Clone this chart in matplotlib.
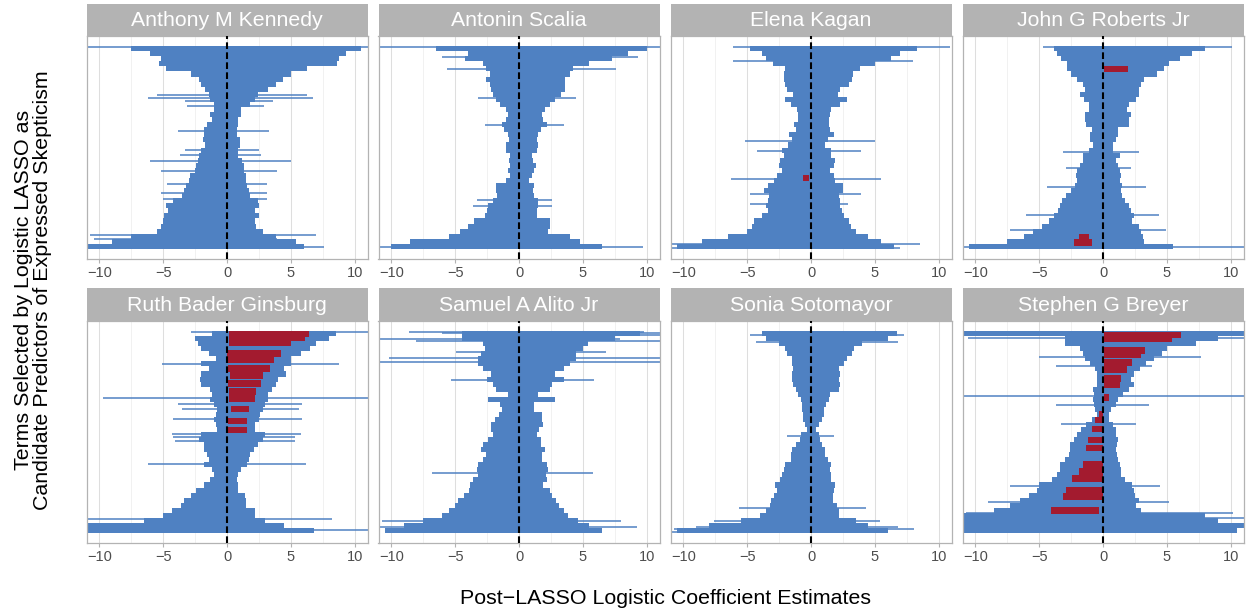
import matplotlib
matplotlib.use("Agg")
import matplotlib.pyplot as plt

plt.rcParams['font.family'] = ['Liberation Sans', 'DejaVu Sans']

# Each panel: ~200 ranked terms. core rows = bands of 5 terms (lo / hi of the dense body),
# long = (rank, lo, hi) of single wide intervals, red = (rank, lo, hi) of highlighted terms.
justices = ["Anthony M Kennedy", "Antonin Scalia", "Elena Kagan", "John G Roberts Jr",
            "Ruth Bader Ginsburg", "Samuel A Alito Jr", "Sonia Sotomayor", "Stephen G Breyer"]

kennedy_lo = [-7.5, -6.0, -5.2, -5.3, -4.8, -2.8, -2.2, -2.0, -1.7, -1.4, -1.3, -1.0, -1.0, -1.3, -1.2, -1.6, -1.8, -1.8, -1.9, -1.7,
              -2.0, -2.2, -2.3, -2.4, -2.5, -2.9, -3.0, -3.2, -3.4, -3.5, -4.2, -4.8, -4.6, -4.9, -5.0, -5.2, -5.5, -7.5, -9.0, -11]
kennedy_hi = [10.5, 9.3, 8.8, 8.6, 6.3, 5.0, 4.4, 3.8, 3.2, 2.4, 2.2, 1.8, 1.1, 1.1, 0.9, 0.9, 0.8, 0.8, 1.0, 1.0,
              0.9, 0.9, 1.2, 1.3, 1.3, 1.5, 1.5, 1.6, 1.7, 1.8, 2.4, 2.5, 2.2, 2.5, 2.2, 2.3, 2.8, 3.8, 5.4, 6.0]
kennedy_long = [(1, -11, 11), (48, -5.5, 6.3), (51, -6.2, 6.7), (54, -3.3, 3.6), (59, -3.1, 2.9), (84, -3.8, 3.3),
                (102, -3.3, 2.5), (107, -3.7, 2.7), (113, -6.0, 5.0), (123, -5.2, 3.9), (136, -4.7, 3.1),
                (145, -5.2, 3.1), (151, -5.0, 3.1), (186, -10.7, 7.0), (190, -10.4, 3.9), (198, -11, 7.6)]
kennedy_red = []

scalia_lo = [-6.5, -4.0, -4.2, -2.8, -2.6, -2.3, -2.6, -2.3, -2.2, -2.0, -1.8, -1.5, -1.0, -0.9, -1.0, -1.3, -1.2, -0.9, -0.8, -1.0,
             -1.0, -0.7, -0.8, -0.7, -0.9, -0.7, -1.0, -1.8, -1.8, -1.7, -2.0, -2.4, -2.5, -2.7, -3.5, -4.0, -4.6, -5.5, -8.5, -10.0]
scalia_hi = [10.0, 8.5, 7.3, 5.5, 4.2, 4.0, 3.6, 3.6, 3.6, 3.3, 2.8, 2.4, 2.0, 1.8, 1.9, 2.2, 1.7, 1.5, 1.4, 1.5,
             1.4, 1.0, 1.1, 1.3, 1.2, 1.0, 0.8, 1.2, 1.1, 1.2, 1.5, 1.5, 1.4, 1.4, 2.4, 2.4, 2.3, 4.0, 4.8, 6.5]
scalia_long = [(1, -11, 11), (11, -6.0, 9.3), (23, -5.6, 7.6), (51, -3.2, 4.5), (78, -2.7, 3.5),
               (152, -3.3, 2.6), (158, -3.6, 2.6), (198, -10.9, 9.7)]
scalia_red = []

kagan_lo = [-4.8, -3.8, -3.5, -3.0, -2.0, -2.1, -2.1, -2.0, -1.9, -1.4, -2.0, -1.6, -1.1, -1.0, -1.0, -1.3, -1.2, -1.7, -1.5, -1.8,
            -2.3, -2.1, -2.4, -2.5, -2.3, -2.7, -2.9, -3.4, -3.7, -3.3, -3.4, -3.5, -3.4, -3.8, -4.5, -4.6, -5.0, -6.5, -8.5, -10.5]
kagan_hi = [8.3, 7.0, 6.3, 5.0, 3.8, 3.3, 3.2, 3.0, 2.3, 2.1, 2.8, 2.3, 1.6, 1.5, 1.4, 1.4, 1.5, 1.8, 1.3, 1.1,
            1.6, 1.6, 1.9, 1.8, 1.5, 1.8, 1.9, 2.5, 2.5, 2.2, 2.3, 2.3, 2.4, 2.6, 3.0, 3.1, 3.5, 4.5, 5.5, 6.5]
kagan_long = [(1, -6.1, 10.9), (15, -6.1, 8.0), (94, -5.2, 5.0), (103, -4.2, 3.9), (131, -6.3, 5.5),
              (146, -4.8, 3.9), (156, -4.8, 2.9), (195, -11, 8.5), (199, -11, 7.0)]
kagan_red = [(130, -0.65, -0.13)]

roberts_lo = [-3.8, -3.6, -3.3, -2.8, -2.8, -2.5, -2.0, -1.6, -1.4, -1.8, -1.5, -1.1, -1.1, -1.4, -1.4, -1.3, -0.9, -1.0, -1.0, -0.8,
              -1.1, -1.6, -1.6, -1.8, -2.0, -2.1, -2.0, -2.2, -2.5, -2.9, -3.2, -3.4, -3.5, -3.8, -4.2, -4.8, -5.5, -6.2, -7.5, -10.5]
roberts_hi = [8.0, 7.0, 6.0, 5.2, 4.8, 4.2, 3.2, 3.0, 2.8, 2.8, 2.6, 2.0, 1.9, 2.2, 2.0, 2.0, 1.2, 1.2, 1.0, 0.8,
              0.8, 1.3, 1.0, 1.2, 1.3, 1.4, 1.3, 1.5, 1.4, 1.5, 1.7, 2.0, 2.2, 2.4, 2.3, 2.8, 3.0, 3.1, 3.2, 5.5]
roberts_long = [(1, -4.7, 10.1), (104, -3.1, 2.8), (120, -2.9, 2.2), (139, -4.4, 3.4), (167, -6.0, 4.4),
                (181, -7.3, 4.9), (198, -11, 11)]
roberts_red = [(22.5, 0.1, 1.95), (188.5, -1.9, -1.1), (193.5, -2.3, -0.9)]

ginsburg_lo = [-1.2, -2.5, -2.3, -2.0, -1.4, -0.9, -2.0, -1.4, -2.0, -2.1, -2.0, -1.3, -1.2, -1.3, -1.0, -0.8, -0.9, -1.0, -0.9, -0.8,
               -2.0, -2.2, -1.8, -1.8, -1.6, -1.4, -1.8, -1.2, -1.0, -1.3, -1.8, -2.4, -2.8, -3.4, -3.6, -4.3, -5.0, -6.5, -11, -11]
ginsburg_hi = [8.5, 8.0, 7.0, 6.5, 5.8, 5.0, 5.0, 4.5, 4.6, 4.0, 3.8, 3.5, 3.2, 3.2, 3.0, 2.8, 2.6, 2.5, 2.2, 2.2,
               3.0, 2.8, 2.4, 2.1, 1.8, 1.7, 1.6, 1.1, 0.9, 0.8, 0.9, 0.9, 1.4, 1.5, 1.5, 2.2, 2.2, 3.0, 4.5, 6.8]
ginsburg_long = [(1, -2.8, 11), (33, -5.1, 8.8), (66, -9.7, 11), (72, -3.8, 5.9), (77, -3.5, 5.6), (87, -4.2, 5.9),
                 (102, -4.3, 5.8), (105, -4.2, 5.3), (109, -4.1, 5.3), (132, -6.2, 6.2), (186, -11, 8.2), (197, -11, 11)]
ginsburg_red = [(3, 0.13, 6.4), (7, 0.13, 6.1), (12, 0.13, 5.0), (22, 0.03, 4.2), (28, 0.05, 3.7), (37, 0.05, 3.4),
                (44, 0.26, 2.8), (52, 0.1, 2.7), (60, 0.13, 2.3), (67, 0.13, 2.2), (77, 0.34, 1.7), (89, 0.08, 1.6),
                (98, 0.08, 1.55)]

alito_lo = [-4.5, -4.5, -2.8, -2.7, -3.0, -3.2, -3.2, -2.8, -2.2, -2.5, -2.0, -1.8, -0.9, -2.4, -1.5, -1.3, -1.6, -1.9, -2.2, -2.2,
            -2.0, -2.4, -2.8, -3.0, -2.6, -2.8, -3.2, -3.3, -3.2, -3.6, -3.8, -3.9, -4.3, -4.8, -5.0, -5.5, -6.0, -7.5, -9.0, -10.5]
alito_hi = [9.5, 7.5, 5.4, 5.0, 4.5, 4.5, 4.0, 3.5, 2.8, 3.5, 2.6, 2.4, 1.5, 2.8, 1.2, 1.2, 1.8, 1.8, 1.9, 1.6,
            1.4, 1.7, 1.7, 2.0, 1.8, 1.8, 2.2, 2.3, 2.1, 2.2, 1.9, 2.4, 2.6, 2.9, 3.1, 3.5, 3.8, 4.6, 5.5, 6.5]
alito_long = [(1, -8.6, 9.8), (2, -6.0, 11), (4, -4.5, 11), (8, -10.9, 7.9), (10, -8.1, 11), (21, -4.9, 6.8),
              (27, -10.2, 11), (31, -10.9, 11), (48, -5.3, 5.9), (141, -6.8, 5.8), (188, -10.7, 8.0), (194, -10.9, 9.2)]
alito_red = []

sotomayor_lo = [-3.8, -3.5, -2.5, -2.0, -1.9, -1.5, -1.5, -1.4, -1.5, -1.5, -1.4, -1.2, -1.0, -0.8, -0.7, -0.7, -0.6, -0.6, -0.5, -0.3,
                -0.8, -0.9, -1.2, -1.5, -1.6, -1.6, -2.0, -2.1, -2.3, -2.4, -2.8, -2.7, -2.9, -3.1, -3.2, -3.5, -4.0, -5.5, -8.0, -10.5]
sotomayor_hi = [6.7, 6.0, 4.0, 3.4, 3.2, 2.8, 2.6, 2.2, 2.3, 2.2, 2.3, 2.2, 1.5, 1.4, 1.2, 1.0, 1.0, 0.9, 0.6, 0.4,
                0.6, 0.7, 0.9, 1.1, 1.1, 1.3, 1.6, 1.5, 1.6, 1.6, 1.9, 1.8, 1.7, 1.7, 2.0, 2.2, 2.2, 3.5, 4.5, 6.0]
sotomayor_long = [(1, -3.8, 6.7), (4, -4.8, 7.3), (11, -4.3, 6.8), (104, -1.9, 1.8), (175, -5.6, 4.3),
                  (188, -7.6, 5.4), (194, -9.0, 6.8), (196, -10.7, 8.1), (199, -11, 6.0)]
sotomayor_red = []

breyer_lo = [-11, -3.0, -3.0, -1.8, -1.6, -1.4, -1.0, -0.6, -0.5, -0.5, -0.5, -0.8, -0.7, -0.8, -0.7, -0.6, -0.5, -0.9, -1.3, -1.7,
             -2.0, -2.3, -2.6, -2.6, -2.7, -3.0, -3.4, -3.4, -3.6, -4.0, -5.0, -5.2, -5.8, -6.5, -7.3, -8.5, -11, -11, -11, -11]
breyer_hi = [11, 9.0, 7.3, 5.0, 4.6, 4.0, 3.4, 2.9, 2.4, 2.2, 2.4, 2.0, 1.6, 1.2, 1.0, 0.6, 0.5, 0.5, 0.8, 1.0,
             1.0, 1.2, 1.1, 1.0, 1.1, 1.2, 1.3, 1.4, 1.4, 1.7, 2.3, 2.4, 2.5, 2.8, 2.6, 3.0, 8.0, 9.0, 11, 10.5]
breyer_long = [(7, -10.6, 11), (26, -5.0, 7.7), (35, -3.7, 3.8), (64, -11, 11), (73, -3.7, 3.6), (92, -3.3, 2.6),
               (154, -7.3, 4.5), (169, -9.0, 5.2), (180, -10.7, 10.2), (185, -11, 11)]
breyer_red = [(4, 0.1, 6.1), (8, 0.1, 5.4), (19, 0.05, 3.3), (23, 0.05, 3.0), (31, 0.1, 2.3), (38, 0.1, 1.9),
              (47, 0.1, 1.4), (53, 0.1, 1.3), (66, 0.1, 0.5), (82, -0.35, 0.0), (88, -0.6, 0.0), (97, -0.85, 0.0),
              (108, -1.2, 0.0), (116, -1.3, 0.0), (132, -1.55, 0.0), (139, -1.9, 0.0), (146, -2.4, 0.0),
              (158, -2.9, 0.0), (164, -3.1, 0.0), (178, -4.1, -0.35)]

panels = [
    (kennedy_lo, kennedy_hi, kennedy_long, kennedy_red),
    (scalia_lo, scalia_hi, scalia_long, scalia_red),
    (kagan_lo, kagan_hi, kagan_long, kagan_red),
    (roberts_lo, roberts_hi, roberts_long, roberts_red),
    (ginsburg_lo, ginsburg_hi, ginsburg_long, ginsburg_red),
    (alito_lo, alito_hi, alito_long, alito_red),
    (sotomayor_lo, sotomayor_hi, sotomayor_long, sotomayor_red),
    (breyer_lo, breyer_hi, breyer_long, breyer_red),
]

n_terms = 200
blue = '#4f81c2'
red = '#a31b2f'
W, H = 1247, 613

fig = plt.figure(figsize=(W / 100, H / 100), dpi=100)

for i, (name, (lo, hi, long_, reds)) in enumerate(zip(justices, panels)):
    col, row = i % 4, i // 4
    left = (86.5 + 292 * col) / W
    if row == 0:
        pan_top, pan_bot, strip_top = 36, 259, 4
    else:
        pan_top, pan_bot, strip_top = 321, 543, 288
    ax = fig.add_axes([left, 1 - pan_bot / H, 281 / W, (pan_bot - pan_top) / H])
    sax = fig.add_axes([left, 1 - pan_top / H, 281 / W, (pan_top - strip_top) / H])

    # strip
    sax.set_facecolor('#b3b3b3')
    sax.set_xticks([])
    sax.set_yticks([])
    for s in sax.spines.values():
        s.set_visible(False)
    sax.text(0.5, 0.47, name, color='white', fontsize=15.3, ha='center', va='center',
             transform=sax.transAxes)

    # grid
    for gx in [-7.5, -2.5, 2.5, 7.5]:
        ax.axvline(gx, color='#ebebeb', lw=0.5, zorder=0)
    for gx in [-10, -5, 0, 5, 10]:
        ax.axvline(gx, color='#dedede', lw=0.75, zorder=0)

    # dense body of intervals
    step = n_terms / len(lo)
    ys = [step * (k + 0.5) for k in range(len(lo))]
    ax.barh(ys, [h - l for l, h in zip(lo, hi)], left=lo, height=step,
            color=blue, linewidth=0, zorder=2)
    # single long intervals
    ax.hlines([t[0] for t in long_], [t[1] for t in long_], [t[2] for t in long_],
              color=blue, lw=1.1, zorder=2)
    # highlighted terms
    if reds:
        ax.barh([t[0] for t in reds], [t[2] - t[1] for t in reds], left=[t[1] for t in reds],
                height=6.5, color=red, linewidth=0, zorder=3)

    ax.axvline(0, color='black', lw=1.5, ls=(0, (3.2, 1.6)), zorder=4)

    ax.set_xlim(-11, 11)
    ax.set_ylim(n_terms + 10, -10)
    ax.set_xticks([-10, -5, 0, 5, 10])
    ax.set_yticks([])
    ax.tick_params(axis='x', length=3, width=0.8, color='#b3b3b3', labelsize=10.5,
                   labelcolor='#4d4d4d', pad=2)
    for s in ax.spines.values():
        s.set_color('#b3b3b3')
        s.set_linewidth(0.9)

fig.text(666 / W, 1 - 598 / H, 'Post\u2212LASSO Logistic Coefficient Estimates',
         fontsize=15.4, ha='center', va='center')
fig.text(33 / W, 1 - 290 / H,
         'Terms Selected by Logistic LASSO as\nCandidate Predictors of Expressed Skepticism',
         fontsize=15.4, ha='center', va='center', rotation=90, linespacing=1.05)

fig.savefig('out.png', dpi=100)
